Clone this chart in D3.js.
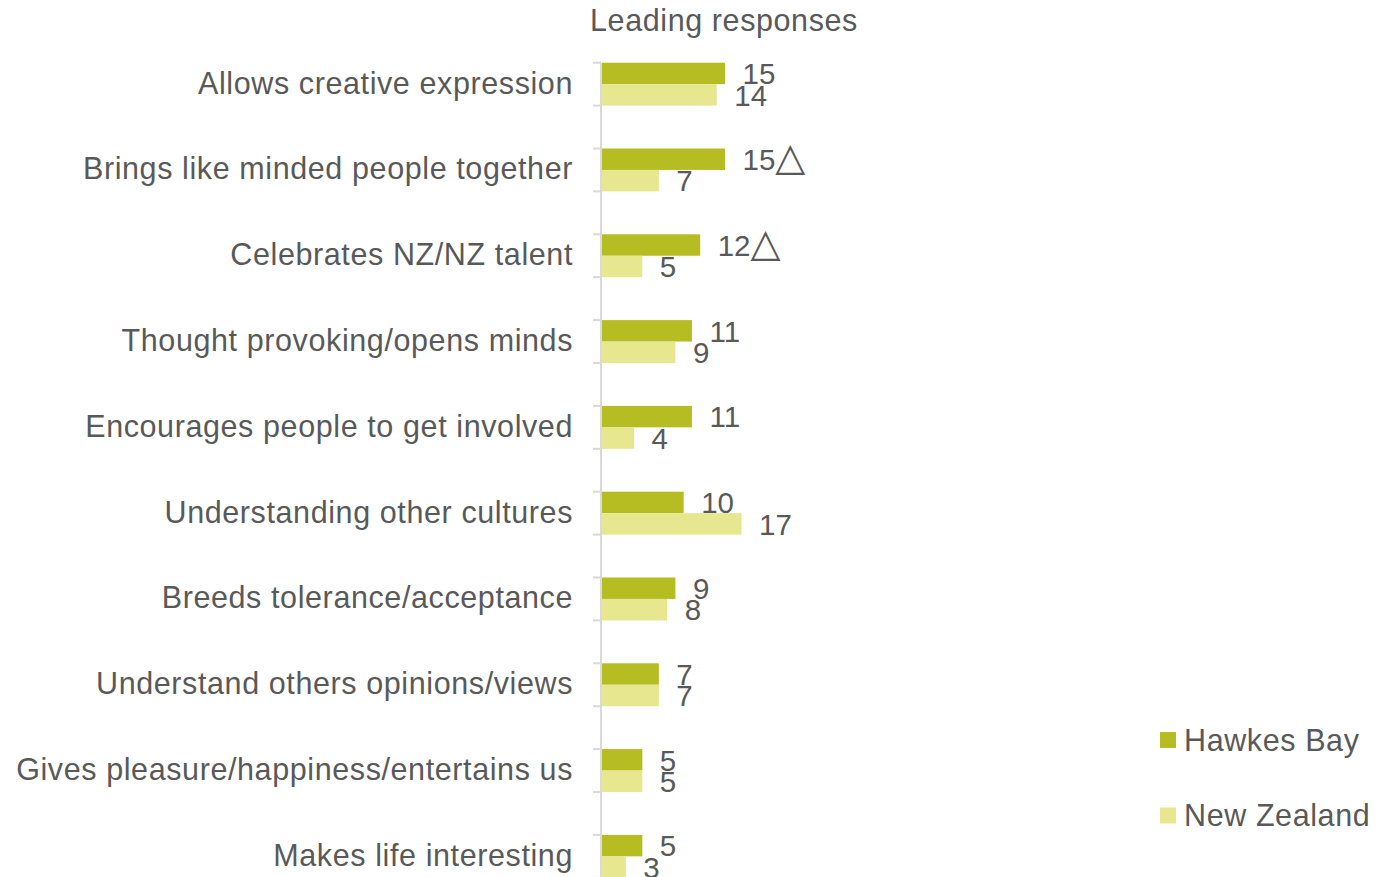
<!DOCTYPE html>
<html><head><meta charset="utf-8">
<script src="https://cdn.jsdelivr.net/npm/d3@7/dist/d3.min.js"></script>
<style>body{margin:0;background:#fff;} svg{display:block;}</style>
</head><body>
<svg id="c" width="1376" height="877"></svg>
<script>
const categories = ["Allows creative expression","Brings like minded people together","Celebrates NZ/NZ talent","Thought provoking/opens minds","Encourages people to get involved","Understanding other cultures","Breeds tolerance/acceptance","Understand others opinions/views","Gives pleasure/happiness/entertains us","Makes life interesting"];
const seriesNames = ["Hawkes Bay","New Zealand"];
const hawkesBay = [15,15,12,11,11,10,9,7,5,5];
const newZealand = [14,7,5,9,4,17,8,7,5,3];
const hbMarks = ["","△","△","","","","","","",""];
const title = "Leading responses";

const colors = ["#b5bd22","#e6e78f"];
const textColor = "#595959";
const svg = d3.select("#c");
const font = "Liberation Sans, Arial, sans-serif";
const fs = 30.5, ls = 0.6;

const x = d3.scaleLinear().domain([0,15]).range([601,725]);
const step = 85.8;
const y = d3.scaleBand().domain(categories).range([62.7, 62.7+step*categories.length]).padding(0);
const inner = d3.scaleBand().domain(seriesNames).range([0, step/2]);

// axis line and ticks
svg.append("line").attr("x1",601).attr("x2",601).attr("y1",62.7).attr("y2",877).attr("stroke","#d9d9d9").attr("stroke-width",2);
const tickYs = [];
categories.forEach(c=>{tickYs.push(y(c)); tickYs.push(y(c)+step/2);});
svg.selectAll(".tick").data(tickYs).enter().append("line")
  .attr("x1",593).attr("x2",601).attr("y1",d=>d).attr("y2",d=>d)
  .attr("stroke","#d9d9d9").attr("stroke-width",2);

const series = [hawkesBay, newZealand];
series.forEach((vals,si)=>{
  const g = svg.append("g");
  g.selectAll("rect").data(vals).enter().append("rect")
    .attr("x",x(0)+1).attr("y",(d,i)=>y(categories[i])+inner(seriesNames[si]))
    .attr("width",d=>x(d)-x(0)-1).attr("height",inner.bandwidth())
    .attr("fill",colors[si]);
  const t = g.selectAll("text").data(vals).enter().append("text")
    .attr("x",d=>x(d)+17.5).attr("y",(d,i)=>y(categories[i])+inner(seriesNames[si])+inner.bandwidth())
    .attr("font-family",font).attr("font-size",29.5).attr("fill",textColor);
  t.append("tspan").text(d=>d);
  if (si===0) t.append("tspan").attr("font-family","DejaVu Sans, sans-serif").attr("font-size",39).text((d,i)=>hbMarks[i]);
});

// category labels
svg.selectAll(".cat").data(categories).enter().append("text")
  .attr("x",573).attr("y",d=>y(d)+step/4+9.5)
  .attr("text-anchor","end").attr("font-family",font).attr("font-size",fs).attr("letter-spacing",ls).attr("fill",textColor)
  .text(d=>d);

// title
svg.append("text").attr("x",590).attr("y",31).attr("font-family",font).attr("font-size",fs).attr("letter-spacing",ls).attr("fill",textColor).text(title);

// legend
const lg = svg.append("g");
seriesNames.forEach((s,i)=>{
  lg.append("rect").attr("x",1160).attr("y",732+i*75.5).attr("width",16).attr("height",16).attr("fill",colors[i]);
  lg.append("text").attr("x",1184).attr("y",751+i*75).attr("font-family",font).attr("font-size",fs).attr("letter-spacing",ls).attr("fill",textColor).text(s);
});
</script>
</body></html>
